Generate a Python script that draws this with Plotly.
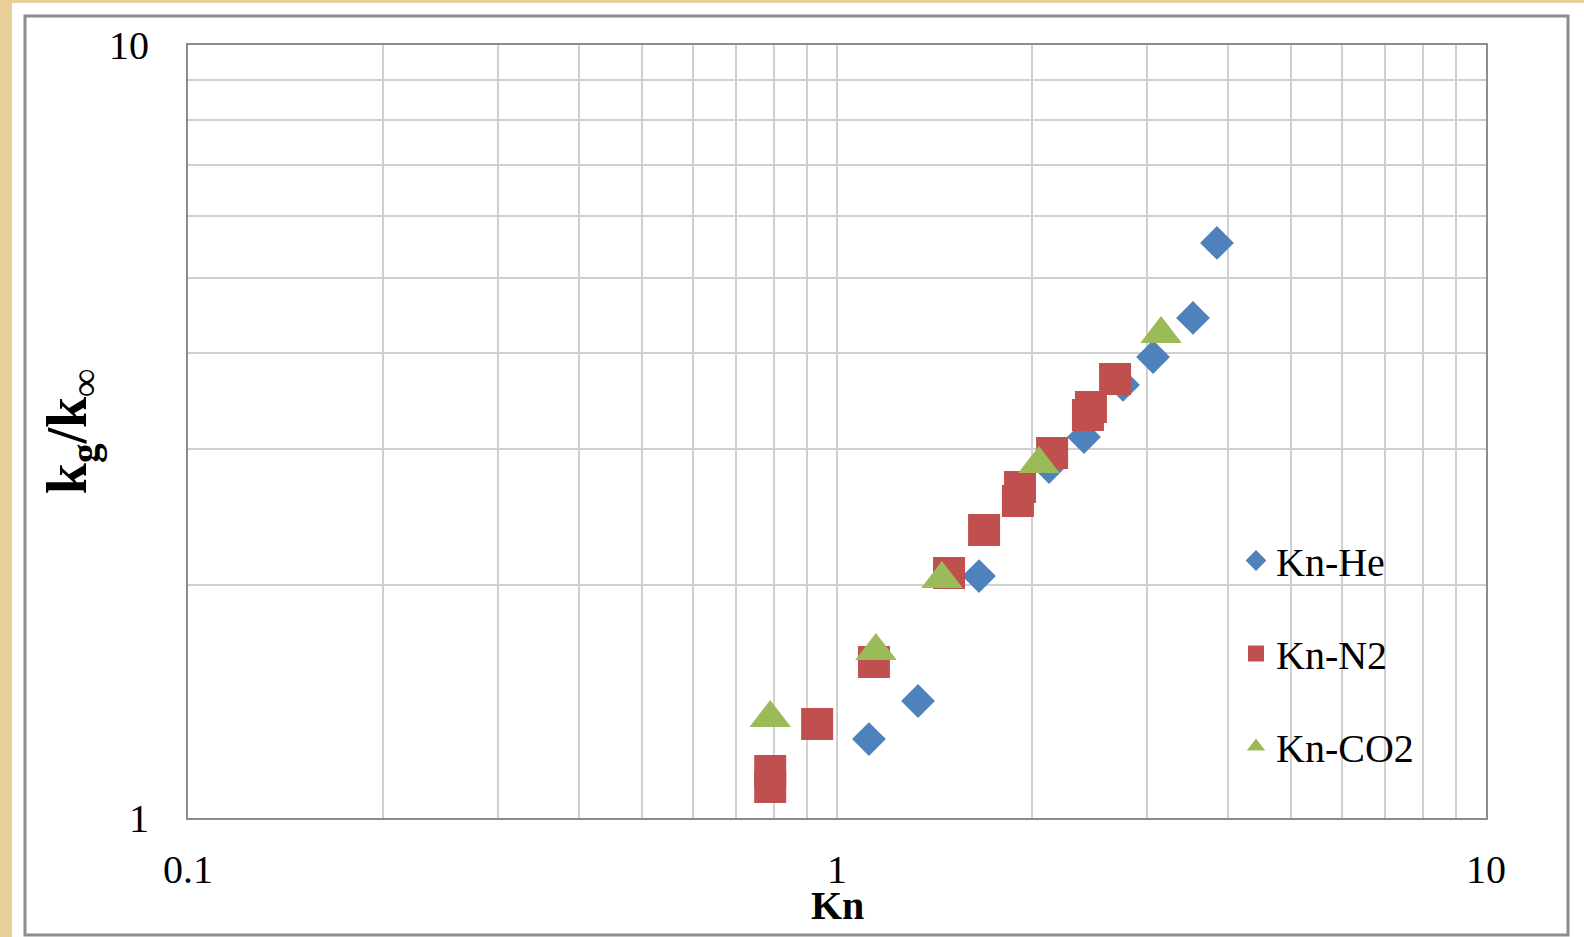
import plotly.graph_objects as go

# ---- data ----
he_kn = [1.120, 1.333, 1.655, 2.122, 2.402, 2.759, 3.069, 3.536, 3.850]
he_k = [1.265, 1.417, 2.056, 2.845, 3.111, 3.633, 3.948, 4.435, 5.545]

n2_kn = [0.789, 0.789, 0.932, 1.140, 1.488, 1.685, 1.900, 1.914, 2.145, 2.436, 2.462, 2.682]
n2_k = [1.150, 1.097, 1.323, 1.591, 2.075, 2.358, 2.571, 2.681, 2.966, 3.321, 3.402, 3.698]

co2_kn = [0.789, 1.148, 1.451, 2.047, 3.157]
co2_k = [1.347, 1.644, 2.038, 2.871, 4.228]

x_range_log = [-1, 1]   # 0.1 .. 10
y_range_log = [0, 1]    # 1 .. 10
x_title = "Kn"
y_title = "k<sub>g</sub>/k<sub>∞</sub>"

# ---- styling ----
W, H = 1584, 937
L, R, T, B = 188, 1486, 45, 818
FONT = "Liberation Serif"
BLUE, RED, GREEN = "#4F81BD", "#C0504D", "#9BBB59"


def px_x(p):
    return (p - L) / (R - L)


def px_y(p):
    return (B - p) / (B - T)


fig = go.Figure()
fig.add_trace(go.Scatter(x=he_kn, y=he_k, mode="markers", name="Kn-He",
                         legendgroup="a",
                         marker=dict(symbol="diamond", size=26, color=BLUE)))
fig.add_trace(go.Scatter(x=n2_kn, y=n2_k, mode="markers", name="Kn-N2",
                         legendgroup="b",
                         marker=dict(symbol="square", size=32, color=RED)))
fig.add_trace(go.Scatter(x=co2_kn, y=co2_k, mode="markers", name="Kn-CO2",
                         legendgroup="c",
                         marker=dict(symbol="triangle-up", size=36, color=GREEN)))

GRID = "#D0D0D0"
axis_common = dict(
    type="log", showline=True, mirror=True, linecolor="#8C8C8C", linewidth=2,
    showgrid=True, gridcolor=GRID, gridwidth=1.5, zeroline=False,
    ticks="", dtick=1,
    tickfont=dict(family=FONT, size=40, color="black"),
    minor=dict(dtick="D1", showgrid=True, gridcolor=GRID, gridwidth=1.5, ticks=""),
)

fig.update_layout(
    width=W, height=H,
    margin=dict(l=L, r=W - R, t=T, b=H - B, autoexpand=False),
    paper_bgcolor="#E8CF96",
    plot_bgcolor="white",
    font=dict(family=FONT, color="black"),
    showlegend=True,
    legend=dict(
        x=px_x(1236), y=px_y(528), xanchor="left", yanchor="top",
        bgcolor="rgba(0,0,0,0)", font=dict(family=FONT, size=40),
        tracegroupgap=38, itemclick=False,
    ),
    xaxis=dict(
        axis_common, range=x_range_log,
        ticklabelstandoff=15,
    ),
    yaxis=dict(
        axis_common, range=y_range_log,
        ticklabelstandoff=29,
        title=dict(text="<b>" + y_title + "</b>",
                   font=dict(family=FONT, size=56), standoff=4),
    ),
    annotations=[
        dict(text="<b>" + x_title + "</b>", xref="paper", yref="paper",
             x=0.5, y=px_y(905), xanchor="center", yanchor="middle",
             showarrow=False, font=dict(family=FONT, size=40, color="black")),
    ],
    shapes=[
        dict(type="rect", xref="paper", yref="paper", layer="below",
             x0=px_x(12), x1=px_x(W + 5), y0=px_y(3), y1=px_y(H + 5),
             fillcolor="white", line=dict(width=0)),
        dict(type="rect", xref="paper", yref="paper", layer="below",
             x0=px_x(25), x1=px_x(1568), y0=px_y(16), y1=px_y(935),
             fillcolor="white", line=dict(color="#8C8C8C", width=3)),
    ],
)

fig.write_html("out.html")
